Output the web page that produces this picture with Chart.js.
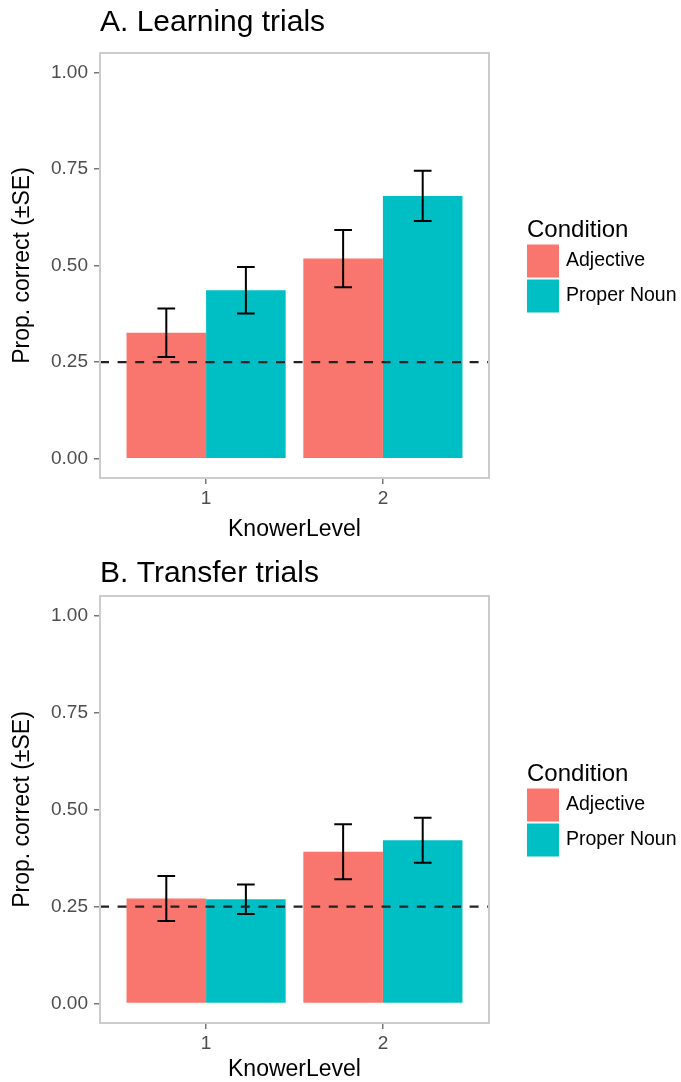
<!DOCTYPE html>
<html>
<head>
<meta charset="utf-8">
<script src="https://cdn.jsdelivr.net/npm/chart.js@4.4.1/dist/chart.umd.min.js"></script>
<style>
html,body{margin:0;padding:0;background:#fff;}
#wrap{position:relative;width:681px;height:1082px;overflow:hidden;background:#fff;}
.panel{position:absolute;left:0;width:681px;}
</style>
</head>
<body>
<div id="wrap">
  <div class="panel" style="top:0;height:543px"><canvas id="chartA"></canvas></div>
  <div class="panel" style="top:543px;height:539px"><canvas id="chartB"></canvas></div>
</div>
<script>
// ---- data ----
const knowerLevels = ['1', '2'];
const knowerPositions = [1, 2];
const conditions = ['Adjective', 'Proper Noun'];
const conditionColors = ['#F8766D', '#00BFC4'];
const legendTitle = 'Condition';

const learningAdjective = [0.326, 0.518];
const learningAdjectiveSE = [0.063, 0.074];
const learningProperNoun = [0.436, 0.680];
const learningProperNounSE = [0.060, 0.065];

const transferAdjective = [0.271, 0.391];
const transferAdjectiveSE = [0.058, 0.071];
const transferProperNoun = [0.269, 0.421];
const transferProperNounSE = [0.038, 0.058];

const yTickValues = [0, 0.25, 0.5, 0.75, 1];
const chanceLevel = 0.25;

// ---- styling ----
const FONT = "'Liberation Sans', Arial, Helvetica, sans-serif";
Chart.defaults.font.family = FONT;

const ggPlugin = {
  id: 'ggDecor',
  afterLayout(chart) {
    if (chart.titleBlock) {
      chart.titleBlock.left = chart.chartArea.left;
    }
  },
  afterDatasetsDraw(chart) {
    const ctx = chart.ctx;
    const xs = chart.scales.x, ys = chart.scales.y;
    const ca = chart.chartArea;
    const capHalf = Math.abs(xs.getPixelForValue(1.05) - xs.getPixelForValue(1));
    ctx.save();
    // error bars
    ctx.strokeStyle = '#000';
    ctx.lineWidth = 2;
    ctx.setLineDash([]);
    chart.data.datasets.forEach((ds, di) => {
      const meta = chart.getDatasetMeta(di);
      meta.data.forEach((bar, i) => {
        const m = ds.data[i].y, se = ds.errors[i];
        const yHi = ys.getPixelForValue(m + se);
        const yLo = ys.getPixelForValue(m - se);
        const x = bar.x;
        ctx.beginPath();
        ctx.moveTo(x, yHi); ctx.lineTo(x, yLo);
        ctx.moveTo(x - capHalf, yHi); ctx.lineTo(x + capHalf, yHi);
        ctx.moveTo(x - capHalf, yLo); ctx.lineTo(x + capHalf, yLo);
        ctx.stroke();
      });
    });
    // chance line
    const yc = ys.getPixelForValue(chanceLevel);
    ctx.strokeStyle = '#222';
    ctx.lineWidth = 2.2;
    ctx.setLineDash([9, 8.6]);
    ctx.beginPath();
    ctx.moveTo(ca.left, yc); ctx.lineTo(ca.right, yc);
    ctx.stroke();
    ctx.restore();
  },
  afterDraw(chart) {
    const ctx = chart.ctx;
    const ca = chart.chartArea;
    ctx.save();
    // panel border
    ctx.strokeStyle = '#cccccc';
    ctx.lineWidth = 2;
    ctx.setLineDash([]);
    ctx.strokeRect(ca.left, ca.top, ca.right - ca.left, ca.bottom - ca.top);
    // legend
    const cy = (ca.top + ca.bottom) / 2;
    const lx = 527;
    ctx.fillStyle = '#000';
    ctx.textAlign = 'left';
    ctx.textBaseline = 'middle';
    ctx.font = `normal 24px ${FONT}`;
    ctx.fillText(legendTitle, lx, cy - 35);
    ctx.font = `normal 19.5px ${FONT}`;
    chart.data.datasets.forEach((ds, k) => {
      const top = cy - 21 + k * 35;
      ctx.fillStyle = ds.backgroundColor;
      ctx.fillRect(lx, top, 32, 33);
      ctx.fillStyle = '#000';
      ctx.fillText(ds.label, lx + 39, top + 16.5);
    });
    ctx.restore();
  }
};

function makeChart(id, titleText, series, errors, geo) {
  const datasets = series.map((vals, k) => ({
    label: conditions[k],
    backgroundColor: conditionColors[k],
    borderWidth: 0,
    categoryPercentage: 0.9,
    barPercentage: 1.0,
    errors: errors[k],
    data: knowerPositions.map((x, i) => ({ x: x, y: vals[i] }))
  }));
  return new Chart(document.getElementById(id), {
    type: 'bar',
    data: { datasets },
    plugins: [ggPlugin],
    options: {
      responsive: true,
      maintainAspectRatio: false,
      devicePixelRatio: 1,
      animation: false,
      events: [],
      layout: { padding: { left: 0, right: 192, top: 0, bottom: 0 } },
      plugins: {
        legend: { display: false },
        tooltip: { enabled: false },
        title: {
          display: true,
          text: titleText,
          align: 'start',
          color: '#000',
          font: { size: 30, weight: 'normal', lineHeight: 1.2 },
          padding: { top: geo.titleTop, bottom: geo.titleBottom }
        }
      },
      scales: {
        x: {
          type: 'linear',
          min: 0.4,
          max: 2.6,
          offset: false,
          afterBuildTicks: s => { s.ticks = knowerPositions.map(v => ({ value: v })); },
          afterFit: s => { s.height = geo.xAxisHeight; },
          grid: { display: true, offset: false, drawOnChartArea: false, drawTicks: true, tickLength: 6, color: '#777', lineWidth: 1.5 },
          border: { display: false },
          ticks: {
            padding: 3,
            color: '#4D4D4D',
            autoSkip: false,
            maxRotation: 0,
            font: { size: 19, lineHeight: 1.2 },
            callback: v => knowerLevels[knowerPositions.indexOf(v)]
          },
          title: {
            display: true,
            text: 'KnowerLevel',
            color: '#000',
            font: { size: 23, lineHeight: 1.0 },
            padding: { top: 0, bottom: geo.xTitleBottom }
          }
        },
        y: {
          type: 'linear',
          min: -0.05,
          max: 1.05,
          afterBuildTicks: s => { s.ticks = yTickValues.map(v => ({ value: v })); },
          afterFit: s => { s.width = 100; },
          grid: { display: true, drawOnChartArea: false, drawTicks: true, tickLength: 6, color: '#777', lineWidth: 1.5 },
          border: { display: false },
          ticks: {
            padding: 6,
            color: '#4D4D4D',
            font: { size: 19, lineHeight: 1.2 },
            callback: v => Number(v).toFixed(2)
          },
          title: {
            display: true,
            text: 'Prop. correct (±SE)',
            color: '#000',
            font: { size: 23, lineHeight: 1.0 },
            padding: { top: 11, bottom: 0 }
          }
        }
      }
    }
  });
}

makeChart('chartA', 'A. Learning trials',
  [learningAdjective, learningProperNoun],
  [learningAdjectiveSE, learningProperNounSE],
  { titleTop: 5, titleBottom: 12, xAxisHeight: 65, xTitleBottom: 1.5 });

makeChart('chartB', 'B. Transfer trials',
  [transferAdjective, transferProperNoun],
  [transferAdjectiveSE, transferProperNounSE],
  { titleTop: 12.5, titleBottom: 4.5, xAxisHeight: 59, xTitleBottom: 0.5 });
</script>
</body>
</html>
